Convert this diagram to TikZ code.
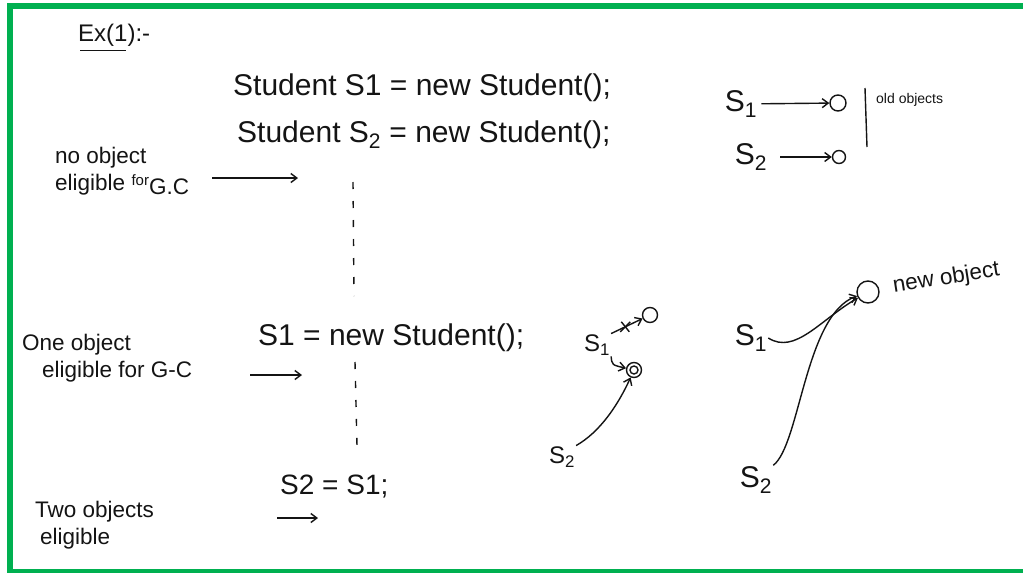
\documentclass[tikz,border=0pt]{standalone}
\usepackage{fontspec}
\setmainfont{Liberation Sans}
\usetikzlibrary{arrows.meta}
\definecolor{frame}{RGB}{0,176,80}
\definecolor{inkc}{RGB}{20,20,20}
\begin{document}
\begin{tikzpicture}[x=1pt,y=-1pt,
  code/.style={anchor=west,inner sep=0pt,text=inkc,font=\fontsize{30}{34}\selectfont},
  note/.style={anchor=west,inner sep=0pt,align=left,text=inkc,font=\fontsize{22.5}{27}\selectfont},
  lab/.style={inner sep=1pt,text=inkc,font=\fontsize{30}{32}\selectfont},
  ink/.style={draw=inkc,line width=1.4pt},
  arr/.style={ink,-{Straight Barb[length=6pt,width=9pt]}},
  obj/.style={circle,ink,inner sep=0pt,minimum size=16pt},
  dotline/.style={ink,dash pattern=on 7pt off 12pt}
]
\useasboundingbox (0,0) rectangle (1023,573);
\fill[white] (0,0) rectangle (1023,573);
\draw[frame,line width=6pt] (1040,6) -- (9.5,6) -- (9.5,572) -- (1040,572);

% heading
\node[note,font=\fontsize{24}{28}\selectfont] (ex) at (78,35) {Ex(1):-};
\draw[ink] ([xshift=2pt,yshift=-4pt]ex.south west) -- ++(46,0);

% code lines
\node[code] (l1) at (233,88) {Student S1 = new Student();};
\node[code] (l2) at (237,135) {Student S\textsubscript{2} = new Student();};
\node[code] (l3) at (258,338) {S1 = new Student();};
\node[code,font=\fontsize{28}{32}\selectfont] (l4) at (280,487) {S2 = S1;};

% left notes
\node[note] (n1) at (55,171) {no object\\eligible \raisebox{5pt}{\fontsize{15}{15}\selectfont for}\raisebox{-4pt}{G.C}};
\node[note] (n2) at (22,358) {One object\\\hspace*{20pt}eligible for G-C};
\node[note] (n3) at (35,525) {Two objects\\\hspace*{5pt}eligible};

\coordinate (a1s) at (212,178); \coordinate (a1e) at (298,178);
\coordinate (a2s) at (250,375); \coordinate (a2e) at (302,375);
\coordinate (a3s) at (277,518); \coordinate (a3e) at (318,518);
\draw[arr] (a1s) -- (a1e);
\draw[arr] (a2s) -- (a2e);
\draw[arr] (a3s) -- (a3e);

% dashed timeline
\coordinate (d1s) at (353,182); \coordinate (d1e) at (354,296);
\coordinate (d2s) at (355,362); \coordinate (d2e) at (357,446);
\draw[dotline] (d1s) -- (d1e);
\draw[dotline] (d2s) -- (d2e);

% top right: old objects
\node[lab] (s1a) at (741,104) {S\textsubscript{1}};
\node[obj] (o1) at (838,103) {};
\draw[arr,shorten <=3pt] (s1a) -- (o1);
\node[lab] (s2a) at (751,157) {S\textsubscript{2}};
\node[circle,ink,inner sep=0pt,minimum size=13pt] (o2) at (839,157) {};
\draw[arr,shorten <=12pt] (s2a) -- (o2);
\coordinate (bar1) at (865,88); \coordinate (bar2) at (867,147);
\draw[ink] (bar1) -- (bar2);
\node[note,font=\fontsize{14}{16}\selectfont] (old) at (876,100) {old objects};

% middle group
\node[obj,minimum size=15pt] (o3) at (650,315) {};
\node[lab,font=\fontsize{24}{26}\selectfont] (s1b) at (597,345) {S\textsubscript{1}};
\draw[arr] (s1b.north east) -- coordinate[pos=0.45] (cx) (o3);
\draw[ink] ([shift={(-5,5)}]cx) -- ([shift={(5,-5)}]cx);
\draw[ink] ([shift={(-4,-5)}]cx) -- ([shift={(4,5)}]cx);
\node[obj,minimum size=15pt] (o4) at (634,370) {};
\node[circle,ink,inner sep=0pt,minimum size=8pt] (o4i) at (o4) {};
\draw[arr] (s1b.south east) .. controls (612,365) .. (o4);
\node[lab,font=\fontsize{24}{26}\selectfont] (s2b) at (562,457) {S\textsubscript{2}};
\draw[arr] (s2b.north east) .. controls (600,432) and (618,405) .. (o4);

% right group: new object
\node[obj,minimum size=22pt] (o5) at (868,292) {};
\node[note,rotate=9] (newo) at (893,287) {new object};
\node[lab] (s1c) at (751,338) {S\textsubscript{1}};
\draw[arr] (s1c.east) .. controls (795,355) and (820,320) .. (o5);
\node[lab] (s2c) at (756,480) {S\textsubscript{2}};
\draw[arr] (s2c.north east) .. controls (800,445) and (805,315) .. (o5);
\end{tikzpicture}
\end{document}
